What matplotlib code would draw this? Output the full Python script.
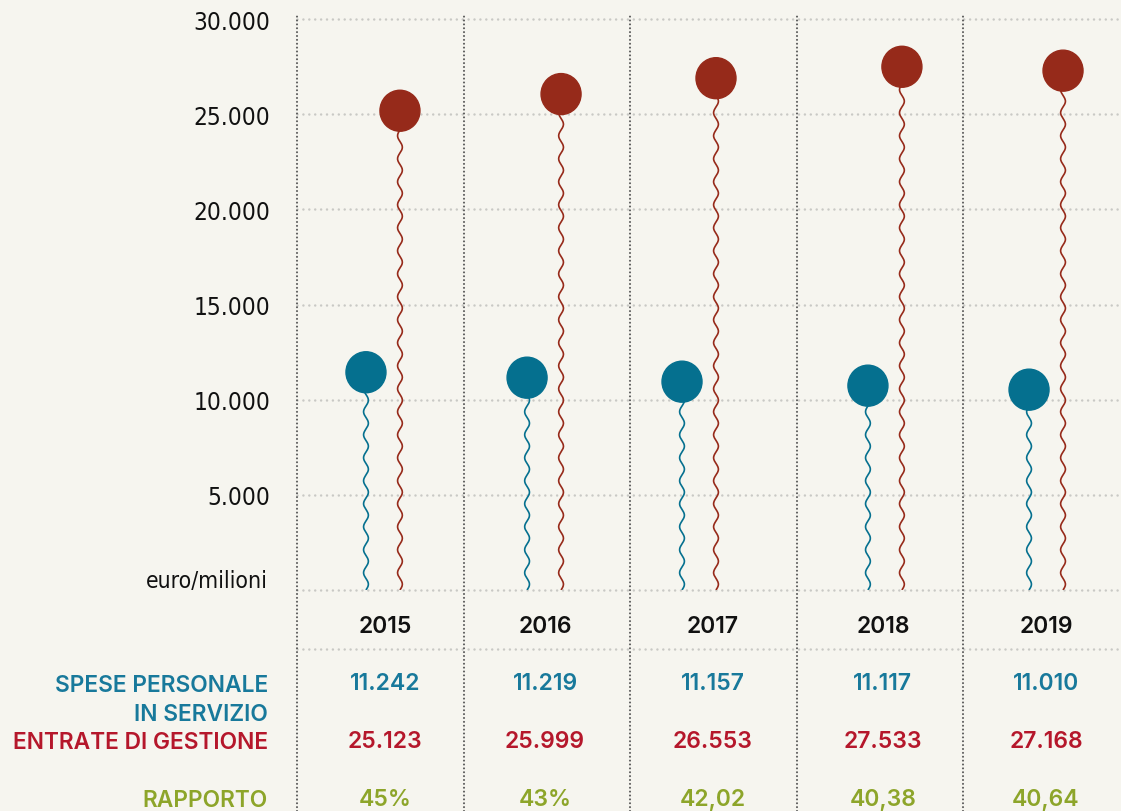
import matplotlib.pyplot as plt
import numpy as np
from matplotlib.patches import Ellipse
from matplotlib.transforms import blended_transform_factory

# dati
anni = ["2015", "2016", "2017", "2018", "2019"]
spese_personale = [11242, 11219, 11157, 11117, 11010]
entrate_gestione = [25123, 25999, 26553, 27533, 27168]
rapporto = ["45%", "43%", "42,02", "40,38", "40,64"]
# altezza dei palloncini come disegnati nel grafico
palloncini_blu = [11440, 11155, 10945, 10735, 10525]
palloncini_rossi = [25180, 26055, 26890, 27490, 27285]
tick_valori = [5000, 10000, 15000, 20000, 25000, 30000]

# layout (colonne in unita', offset dentro la colonna)
off_blu = [0.414, 0.381, 0.311, 0.427, 0.394]
off_rosso = [o + 0.204 for o in off_blu]
off_testo = [0.528, 0.489, 0.497, 0.517, 0.496]

BG = "#f6f5ef"
BLU = "#05708f"
ROSSO = "#962a1a"
BLU_T = "#18799b"
ROSSO_T = "#b5172b"
VERDE_T = "#8da52a"

W, H = 1121, 812
fig = plt.figure(figsize=(W / 100, H / 100), dpi=100, facecolor=BG)
ax = fig.add_axes([297 / W, 221 / H, 824 / W, 571 / H])
ax.set_facecolor(BG)
xmax = 824 / 166.6
ax.set_xlim(0, xmax)
ax.set_ylim(0, 30000)
for s in ax.spines.values():
    s.set_visible(False)

dx = xmax / 824     # data per pixel
dy = 30000 / 571

def fmt(v):
    return f"{v:,}".replace(",", ".")

# griglia orizzontale
grid_kw = dict(color="#c9c9c5", lw=1.8, linestyle=(0, (0.01, 2.35)),
               dash_capstyle="round", clip_on=False, zorder=1)
for v in [0] + tick_valori:
    ax.axhline(v, **grid_kw)
ax.axhline(-59 * dy, **grid_kw)

# divisori verticali
for i in range(5):
    ax.axvline(i, ymin=(591 - 812) / 571, ymax=(591 - 16) / 571, clip_on=False,
               color="#5a5a5a", lw=1.5, linestyle=(0, (0.01, 1.85)),
               dash_capstyle="round", zorder=1)

narrow = dict(family="DejaVu Sans", stretch="condensed", weight="light")
ax.set_xticks([])
ax.set_yticks(tick_valori)
ax.set_yticklabels([fmt(v) for v in tick_valori], fontsize=17.5, color="#111111", **narrow)
ax.tick_params(axis="y", length=0, pad=19)

# palloncini
def palloncino(x0, v, col):
    rx, ry = 20 * dx, 20.5 * dy
    y = np.linspace(0, v - ry * 0.95, 600)
    x = x0 + 2.4 * dx * np.sin(2 * np.pi * y / (23 * dy))
    ax.plot(x, y, color=col, lw=1.2, zorder=2, solid_capstyle="butt")
    ax.add_patch(Ellipse((x0, v), 2 * rx, 2 * ry, color=col, zorder=3))

for i in range(len(anni)):
    palloncino(i + off_blu[i], palloncini_blu[i], BLU)
    palloncino(i + off_rosso[i], palloncini_rossi[i], ROSSO)

# tabella
tr = blended_transform_factory(ax.transData, fig.transFigure)
num = dict(family=["Inter", "DejaVu Sans"], weight="semibold", fontsize=16.5)
lab = dict(family=["Inter", "DejaVu Sans"], weight="semibold", fontsize=16.4)
for i in range(len(anni)):
    xc = i + off_testo[i]
    ax.text(xc, 1 - 627 / H, anni[i], transform=tr, ha="center", va="center",
            color="#111111", **num)
    ax.text(xc, 1 - 684 / H, fmt(spese_personale[i]), transform=tr, ha="center", va="center",
            color=BLU_T, **num)
    ax.text(xc, 1 - 742 / H, fmt(entrate_gestione[i]), transform=tr, ha="center", va="center",
            color=ROSSO_T, **num)
    ax.text(xc, 1 - 800 / H, rapporto[i], transform=tr, ha="center", va="center",
            color=VERDE_T, **num)

lx = 268 / W
fig.text(lx, 1 - 582 / H, "euro/milioni", ha="right", va="center",
         fontsize=16.5, color="#111111", **narrow)
fig.text(lx, 1 - 686 / H, "SPESE PERSONALE", ha="right", va="center", color=BLU_T, **lab)
fig.text(lx, 1 - 715 / H, "IN SERVIZIO", ha="right", va="center", color=BLU_T, **lab)
fig.text(lx, 1 - 743 / H, "ENTRATE DI GESTIONE", ha="right", va="center", color=ROSSO_T, **lab)
fig.text(lx, 1 - 801 / H, "RAPPORTO", ha="right", va="center", color=VERDE_T, **lab)

fig.savefig("out.png", dpi=100, facecolor=BG)
